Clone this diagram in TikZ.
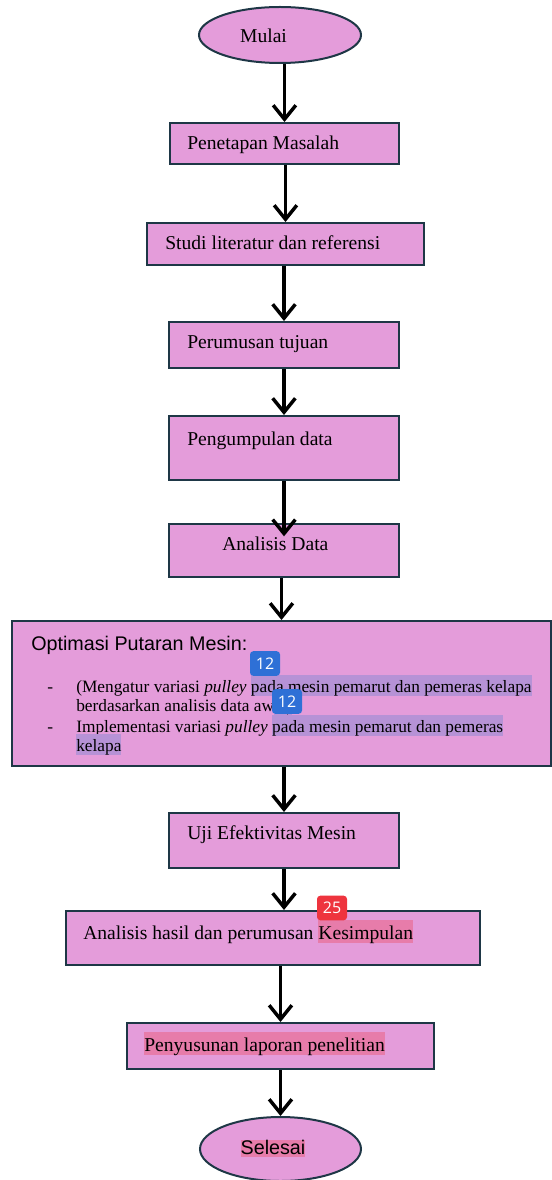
\documentclass[tikz,border=0pt]{standalone}
\usepackage{fontspec}
\setmainfont{Liberation Serif}
\setsansfont{Liberation Sans}
\newfontfamily\badgefont{Open Sans}
\usetikzlibrary{arrows.meta,shapes.geometric,positioning}
\definecolor{boxfill}{RGB}{228,156,218}
\definecolor{edge}{RGB}{30,55,70}
\definecolor{hlblue}{RGB}{182,146,214}
\definecolor{hlred}{RGB}{231,124,170}
\definecolor{tagblue}{RGB}{46,112,214}
\definecolor{tagred}{RGB}{238,52,62}
\newcommand{\pxl}{0.75pt}
\newcommand{\hlon}[4]{{\setlength{\fboxsep}{0pt}\colorbox{#1}{\rule[-#2]{0pt}{#3}#4}}}

\begin{document}
\begin{tikzpicture}[x=0.75pt,y=-0.75pt,
    box/.style={draw=edge,fill=boxfill,line width=1.5pt,inner sep=0pt},
    oval/.style={ellipse,draw=edge,fill=boxfill,line width=1.5pt,inner sep=0pt},
    txt/.style={anchor=base west,inner sep=0pt,font=\fontsize{14.7}{18}\selectfont},
    sub/.style={anchor=base west,inner sep=0pt,font=\fontsize{13}{15}\selectfont},
    badge/.style={rounded corners=2.5pt,text=white,inner sep=0pt,minimum width=22.5pt,minimum height=18.5pt,font=\badgefont\fontsize{12}{14}\selectfont},
    arr/.style={line width=2.6pt,-{Straight Barb[length=10.5pt,width=17pt]}}]
    \useasboundingbox (0,0) rectangle (552,1180);
    %shapes
    \node[oval,minimum width=162*\pxl,minimum height=56*\pxl] (mulai) at (280,35) {};
    \node[box,minimum width=229*\pxl,minimum height=41*\pxl] (masalah) at (284.5,143.5) {};
    \node[box,minimum width=277*\pxl,minimum height=42*\pxl] (studi) at (285.5,244) {};
    \node[box,minimum width=230*\pxl,minimum height=46*\pxl] (tujuan) at (284,345) {};
    \node[box,minimum width=230*\pxl,minimum height=64*\pxl] (data) at (284,448) {};
    \node[box,minimum width=230*\pxl,minimum height=53*\pxl] (analisis) at (284,550.5) {};
    \node[box,minimum width=539*\pxl,minimum height=145*\pxl] (optimasi) at (281.5,693.5) {};
    \node[box,minimum width=230*\pxl,minimum height=55*\pxl] (uji) at (284,840.5) {};
    \node[box,minimum width=414*\pxl,minimum height=54*\pxl] (hasil) at (273,938) {};
    \node[box,minimum width=307*\pxl,minimum height=46*\pxl] (laporan) at (280.5,1046) {};
    \node[oval,minimum width=161*\pxl,minimum height=64*\pxl] (selesai) at (280.5,1149) {};
    %texts
    \node[txt,anchor=base] (mulaitxt) at (263.5,43) {Mulai};
    \node[txt] (masalahtxt) at (187,150) {Penetapan Masalah};
    \node[txt] (studitxt) at (165,250) {Studi literatur dan referensi};
    \node[txt] (tujuantxt) at (187,348) {Perumusan tujuan};
    \node[txt] (datatxt) at (187,445) {Pengumpulan data};
    \node[txt] (analisistxt) at (222,550) {Analisis Data};
    \node[txt,font=\sffamily\fontsize{14.8}{18}\selectfont] (optimasitxt) at (31,650) {Optimasi Putaran Mesin:};
    \foreach \y/\n in {692/dash1,732/dash2}
        \node[sub] (\n) at (47,\y) {-};
    \node[sub] (line1) at (76,692) {(Mengatur variasi \textit{pulley} \hlon{hlblue}{2.25pt}{15pt}{pada mesin pemarut dan pemeras kelapa}};
    \node[sub] (line2) at (76,711) {berdasarkan analisis data aw\hlon{hlblue}{2.25pt}{15pt}{al)}};
    \node[sub] (line3) at (76,732) {Implementasi variasi \textit{pulley} \hlon{hlblue}{2.25pt}{15pt}{pada mesin pemarut dan pemeras}};
    \node[sub] (line4) at (76,751) {\hlon{hlblue}{2.25pt}{15pt}{kelapa}};
    \node[txt] (ujitxt) at (187,839) {Uji Efektivitas Mesin};
    \node[txt] (hasiltxt) at (83,939) {Analisis hasil dan perumusan \hlon{hlred}{2.25pt}{16.5pt}{Kesimpulan}};
    \node[txt] (laporantxt) at (144,1051) {\hlon{hlred}{1.5pt}{15.75pt}{Penyusunan laporan penelitian}};
    \node[txt,anchor=base,font=\sffamily\fontsize{14.8}{18}\selectfont] (selesaitxt) at (273,1154) {\hlon{hlred}{2.25pt}{12.75pt}{Selesai}};
    %badges
    \node[badge,fill=tagblue] (tag1) at (265,663.5) {12};
    \node[badge,fill=tagblue] (tag2) at (287,701.5) {12};
    \node[badge,fill=tagred] (tag3) at (332,908) {25};
    %arrows
    \foreach \a/\b in {mulai/masalah,masalah/studi,studi/tujuan,tujuan/data,analisis/optimasi,optimasi/uji,hasil/laporan,laporan/selesai}
        \draw[arr] (\a.south -| \b.north) -- (\b.north);
    \draw[arr,shorten >=-10pt] (data.south) -- (analisis.north);
    \draw[arr] (uji.south) -- (uji.south |- hasil.north);
\end{tikzpicture}
\end{document}
